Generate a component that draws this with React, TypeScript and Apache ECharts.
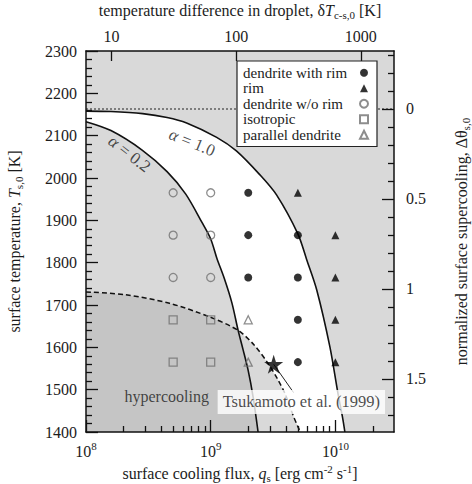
import React, { useEffect, useRef } from "react";
import * as echarts from "echarts";

// ---- scales -------------------------------------------------------------
const LOGQ_MIN = 8; // log10 of surface cooling flux
const LOGQ_MAX = 10.47;
const T_MIN = 1400;
const T_MAX = 2300;
const T_MELT = 2163; // surface temperature at which supercooling is zero
const K_PER_THETA = 425; // kelvin per unit of normalized supercooling
const Q_PER_KELVIN = 1.6e7; // q_s that corresponds to a 1 K droplet temperature difference

// ---- tick values ---------------------------------------------------------
const qDecades = [8, 9, 10];
const deltaTTicks = [10, 100, 1000];
const thetaTicks = [0, 0.5, 1, 1.5];
const thetaMinorTicks = [-0.3, -0.2, -0.1, 0.1, 0.2, 0.3, 0.4, 0.6, 0.7, 0.8, 0.9, 1.1, 1.2, 1.3, 1.4, 1.6, 1.7];

// ---- boundary curves: [log10 q_s, T_s,0] ---------------------------------
const CROSS: [number, number] = [9.22, 1640]; // alpha = 0.2 meets the hypercooling limit

const alpha10Curve: [number, number][] = [
  [8.0, 2158], [8.2, 2157], [8.454, 2152], [8.65, 2143], [8.807, 2130], [9.048, 2096],
  [9.206, 2064], [9.393, 2008], [9.528, 1960], [9.699, 1868], [9.77, 1807], [9.851, 1735],
  [9.956, 1601], [10.02, 1492], [10.06, 1430], [10.076, 1400],
];

const alpha02Curve: [number, number][] = [
  [8.0, 2133], [8.2, 2112], [8.45, 2066], [8.65, 2015], [8.8, 1962], [8.93, 1895],
  [9.0, 1856], [9.05, 1810], [9.11, 1762], [9.17, 1705], CROSS, [9.26, 1594],
  [9.3, 1546], [9.34, 1483], [9.38, 1400],
];

const hypercoolingLimit: [number, number][] = [
  [8.0, 1731], [8.32, 1724], [8.67, 1704], [8.99, 1672], CROSS, [9.35, 1605],
  [9.46, 1562], [9.54, 1523], [9.6, 1488], [9.66, 1440], [9.7, 1412], [9.72, 1400],
];

// ---- experiments: [q_s (erg cm^-2 s^-1), T_s,0 (K)] -----------------------
const dendriteWithRim = [[2e9, 1965], [2e9, 1865], [5e9, 1865], [2e9, 1765], [5e9, 1765], [5e9, 1665], [5e9, 1565]];
const rimOnly = [[5e9, 1965], [1e10, 1865], [1e10, 1765], [1e10, 1665], [1e10, 1565]];
const dendriteNoRim = [[5e8, 1965], [1e9, 1965], [5e8, 1865], [1e9, 1865], [5e8, 1765], [1e9, 1765]];
const isotropic = [[5e8, 1665], [1e9, 1665], [5e8, 1565], [1e9, 1565]];
const parallelDendrite = [[2e9, 1665], [2e9, 1565]];
const tsukamoto1999 = [[3.2e9, 1560]];

const FONT = "'Liberation Serif', 'Times New Roman', serif";
const INK = "#1c1c1c";
const LIGHT = "#d9d9d9";
const DARK = "#c5c5c5";
const STAR = "path://M50,0 L61.2,34.5 L97.6,34.5 L68.2,55.9 L79.4,90.5 L50,69.1 L20.6,90.5 L31.8,55.9 L2.4,34.5 L38.8,34.5 Z";

const toLog = (pts: number[][]) => pts.map(([q, t]) => [Math.log10(q), t]);

const iA = alpha02Curve.indexOf(CROSS);
const iH = hypercoolingLimit.indexOf(CROSS);

// white band between alpha = 0.2 and alpha = 1.0, above the hypercooling limit
const whiteRegion = [
  ...alpha10Curve,
  ...hypercoolingLimit.slice(iH).reverse(),
  ...alpha02Curve.slice(0, iA).reverse(),
];
// hypercooling region left of alpha = 0.2
const darkRegion = [
  ...hypercoolingLimit.slice(0, iH + 1),
  ...alpha02Curve.slice(iA + 1),
  [LOGQ_MIN, T_MIN],
];

const qMinorTicks: number[] = [];
qDecades.forEach((n) => {
  for (let k = 2; k <= 9; k++) {
    const v = Math.log10(k) + n;
    if (v < LOGQ_MAX) qMinorTicks.push(v);
  }
});

const thetaToT = (th: number) => T_MELT - th * K_PER_THETA;

const txt = { fontFamily: FONT, color: INK };
const titleRich = {
  n: { ...txt, fontSize: 16, lineHeight: 20 },
  i: { ...txt, fontSize: 16, lineHeight: 20, fontStyle: "italic" },
  sub: { ...txt, fontSize: 11, lineHeight: 11, verticalAlign: "bottom" },
  sup: { ...txt, fontSize: 11, lineHeight: 9, verticalAlign: "top" },
};

const polygonSeries = (pts: number[][], fill: string) => ({
  type: "custom",
  silent: true,
  data: [[LOGQ_MIN, T_MIN]],
  renderItem: (_p: any, api: any) => ({
    type: "polygon",
    shape: { points: pts.map((p) => api.coord(p)) },
    style: { fill, stroke: "none" },
  }),
  z: 1,
});

const curve = (data: number[][], type: any = "solid", width = 1.6) => ({
  type: "line",
  data,
  symbol: "none",
  silent: true,
  smooth: 0.3,
  lineStyle: { color: "#111", width, type },
  z: 2,
});

const openStyle = { color: "rgba(0,0,0,0)", borderColor: "#707070", borderWidth: 1.3 };

export default function App() {
  const ref = useRef<HTMLDivElement>(null);

  useEffect(() => {
    if (!ref.current) return;
    const chart = echarts.init(ref.current, null, { renderer: "svg" });

    const axisLine = { show: true, onZero: false, lineStyle: { color: "#111", width: 1.5 } };
    const tickStyle = { color: "#111", width: 1.3 };

    const option: any = {
      animation: false,
      backgroundColor: "#fff",
      grid: {
        left: 86, top: 51, width: 308, height: 381, show: true, backgroundColor: LIGHT, borderWidth: 0,
        containLabel: false, outerBoundsMode: "none",
      },
      xAxis: [
        {
          type: "value", position: "bottom", min: LOGQ_MIN, max: LOGQ_MAX, z: 10,
          axisLine, splitLine: { show: false },
          axisTick: { show: true, inside: true, length: 12, customValues: qDecades, lineStyle: tickStyle },
          axisLabel: {
            customValues: qDecades, margin: 8,
            formatter: (v: number) => `{b|10}{s|${Math.round(v)}}`,
            rich: {
              b: { ...txt, fontSize: 16, lineHeight: 22 },
              s: { ...txt, fontSize: 11, lineHeight: 8, verticalAlign: "top" },
            },
          },
          name: "{n|surface cooling flux, }{i|q}{sub|s}{n| [erg cm}{sup|-2}{n| s}{sup|-1}{n|]}",
          nameLocation: "middle", nameGap: 31,
          nameTextStyle: { rich: titleRich },
        },
        {
          type: "value", position: "bottom", min: LOGQ_MIN, max: LOGQ_MAX, z: 10,
          axisLine: { show: false }, splitLine: { show: false }, axisLabel: { show: false },
          axisTick: { show: true, inside: true, length: 6, customValues: qMinorTicks, lineStyle: tickStyle },
        },
        {
          type: "value", position: "top", min: LOGQ_MIN, max: LOGQ_MAX, z: 10,
          axisLine, splitLine: { show: false },
          axisTick: {
            show: true, inside: true, length: 10, lineStyle: tickStyle,
            customValues: deltaTTicks.map((d) => Math.log10(d * Q_PER_KELVIN)),
          },
          axisLabel: {
            customValues: deltaTTicks.map((d) => Math.log10(d * Q_PER_KELVIN)), margin: 7,
            fontFamily: FONT, fontSize: 16, color: INK,
            formatter: (v: number) => String(Math.round(Math.pow(10, v) / Q_PER_KELVIN)),
          },
          name: "{n|temperature difference in droplet, δ}{i|T}{sub|c-s,0}{n| [K]}",
          nameLocation: "middle", nameGap: 31,
          nameTextStyle: { rich: titleRich },
        },
      ],
      yAxis: [
        {
          type: "value", position: "left", min: T_MIN, max: T_MAX, interval: 100, z: 10,
          axisLine, splitLine: { show: false }, minorSplitLine: { show: false },
          axisTick: { show: true, inside: true, length: 12, lineStyle: tickStyle },
          minorTick: { show: true, splitNumber: 5, length: 6, lineStyle: tickStyle },
          axisLabel: { margin: 9, fontFamily: FONT, fontSize: 16, color: INK, formatter: (v: number) => String(v) },
          name: "{n|surface temperature, }{i|T}{sub|s,0}{n| [K]}",
          nameLocation: "middle", nameRotate: 90, nameGap: 62,
          nameTextStyle: { rich: titleRich },
        },
        {
          type: "value", position: "right", min: T_MIN, max: T_MAX, z: 10,
          axisLine, splitLine: { show: false },
          axisTick: { show: true, inside: true, length: 12, customValues: thetaTicks.map(thetaToT), lineStyle: tickStyle },
          axisLabel: {
            customValues: thetaTicks.map(thetaToT), margin: 12,
            fontFamily: FONT, fontSize: 16, color: INK,
            formatter: (v: number) => String(Math.round(((T_MELT - v) / K_PER_THETA) * 10) / 10),
          },
          name: "{n|normalized surface supercooling, Δθ}{sub|s,0}",
          nameLocation: "middle", nameRotate: 90, nameGap: 57,
          nameTextStyle: { rich: titleRich },
        },
        {
          type: "value", position: "right", min: T_MIN, max: T_MAX, z: 10,
          axisLine: { show: false }, splitLine: { show: false }, axisLabel: { show: false },
          axisTick: { show: true, inside: true, length: 6, customValues: thetaMinorTicks.map(thetaToT), lineStyle: tickStyle },
        },
      ],
      legend: {
        orient: "vertical", left: 237, top: 61, align: "right",
        itemWidth: 8, itemHeight: 8, itemGap: 0, padding: [4, 8, 4, 6],
        backgroundColor: "#fff", borderColor: "#222", borderWidth: 1.2, borderRadius: 0,
        selectedMode: false, z: 20,
        data: ["dendrite with rim", "rim", "dendrite w/o rim", "isotropic", "parallel dendrite"],
        formatter: (name: string) => `{t|${name}}`,
        textStyle: {
          width: 112, lineHeight: 15.5,
          rich: { t: { ...txt, fontSize: 15, lineHeight: 15.5, align: "left" } },
        },
      },
      series: [
        polygonSeries(whiteRegion, "#ffffff"),
        polygonSeries(darkRegion, DARK),
        {
          type: "line", symbol: "none", silent: true, z: 2,
          data: [[LOGQ_MIN, T_MELT], [LOGQ_MAX, T_MELT]],
          lineStyle: { color: "#222", width: 1.2, type: [2, 2] },
        },
        curve(alpha10Curve),
        curve(alpha02Curve),
        curve(hypercoolingLimit, [5, 3], 1.5),
        {
          type: "line", symbol: "none", silent: true, z: 2,
          data: [toLog(tsukamoto1999)[0], [9.665, 1493]],
          lineStyle: { color: "#222", width: 1 },
        },
        {
          name: "dendrite with rim", type: "scatter", symbol: "circle", symbolSize: 8, z: 3,
          data: toLog(dendriteWithRim), itemStyle: { color: "#000" },
        },
        {
          name: "rim", type: "scatter", symbol: "triangle", symbolSize: 8, z: 3,
          data: toLog(rimOnly), itemStyle: { color: "#000" },
        },
        {
          name: "dendrite w/o rim", type: "scatter", symbol: "circle", symbolSize: 8, z: 3,
          data: toLog(dendriteNoRim), itemStyle: openStyle,
        },
        {
          name: "isotropic", type: "scatter", symbol: "rect", symbolSize: 8, z: 3,
          data: toLog(isotropic), itemStyle: openStyle,
        },
        {
          name: "parallel dendrite", type: "scatter", symbol: "triangle", symbolSize: 8, z: 3,
          data: toLog(parallelDendrite), itemStyle: openStyle,
        },
        {
          type: "scatter", symbol: STAR, symbolSize: 19, z: 3, silent: true,
          data: toLog(tsukamoto1999), itemStyle: { color: "#000" },
        },
        {
          type: "scatter", symbolSize: 0, z: 4, silent: true,
          label: { show: true, position: "inside", fontFamily: FONT, color: INK },
          data: [
            {
              value: [8.851, 2084],
              label: { formatter: "{a|α}{n| = 1.0}", rotate: -22, rich: { a: { ...titleRich.i, fontSize: 17 }, n: { ...titleRich.n, fontSize: 17 } } },
            },
            {
              value: [8.349, 2057],
              label: { formatter: "{a|α}{n| = 0.2}", rotate: -38, rich: { a: { ...titleRich.i, fontSize: 17 }, n: { ...titleRich.n, fontSize: 17 } } },
            },
            { value: [8.647, 1485], label: { formatter: "hypercooling", fontSize: 16 } },
            {
              value: [9.727, 1471],
              label: { formatter: "Tsukamoto et al. (1999)", fontSize: 16.5, backgroundColor: "#fff", padding: [4, 5, 3, 5] },
            },
          ],
        },
      ],
    };

    chart.setOption(option);
    return () => chart.dispose();
  }, []);

  return <div ref={ref} style={{ position: "absolute", left: 0, top: 0, width: 472, height: 484 }} />;
}
